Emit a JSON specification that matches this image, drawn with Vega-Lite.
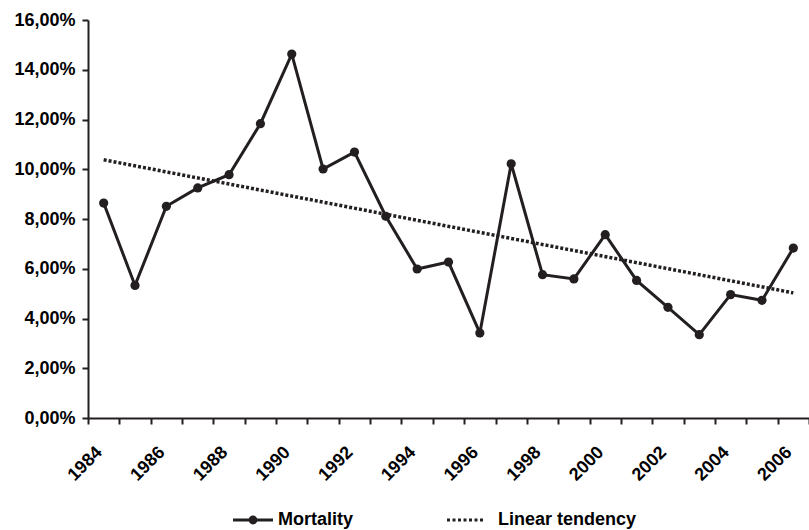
{
  "$schema": "https://vega.github.io/schema/vega-lite/v6.json",
  "width": 721,
  "height": 398,
  "autosize": "none",
  "padding": {"left": 88, "top": 20, "right": 0, "bottom": 112},
  "background": "white",
  "config": {
    "view": {"stroke": null},
    "font": "Liberation Sans",
    "axis": {
      "domainColor": "#231f20",
      "domainWidth": 2,
      "tickColor": "#231f20",
      "tickWidth": 2,
      "tickSize": 6,
      "grid": false,
      "labelFont": "Liberation Sans",
      "labelFontSize": 18,
      "labelFontWeight": "bold",
      "labelColor": "#000000",
      "title": null
    },
    "legend": {
      "orient": "none",
      "legendX": 145,
      "legendY": 480,
      "direction": "horizontal",
      "labelFont": "Liberation Sans",
      "labelFontSize": 18,
      "labelFontWeight": "bold",
      "labelColor": "#000000",
      "symbolSize": 1600,
      "symbolStrokeWidth": 0,
      "symbolFillColor": "#231f20",
      "symbolOpacity": 1,
      "labelOffset": 5,
      "columnPadding": 93
    }
  },
  "data": {
    "values": [
      {"year": 1984, "value": 8.64, "series": "Mortality"},
      {"year": 1985, "value": 5.33, "series": "Mortality"},
      {"year": 1986, "value": 8.51, "series": "Mortality"},
      {"year": 1987, "value": 9.25, "series": "Mortality"},
      {"year": 1988, "value": 9.78, "series": "Mortality"},
      {"year": 1989, "value": 11.83, "series": "Mortality"},
      {"year": 1990, "value": 14.63, "series": "Mortality"},
      {"year": 1991, "value": 10.01, "series": "Mortality"},
      {"year": 1992, "value": 10.69, "series": "Mortality"},
      {"year": 1993, "value": 8.11, "series": "Mortality"},
      {"year": 1994, "value": 5.99, "series": "Mortality"},
      {"year": 1995, "value": 6.27, "series": "Mortality"},
      {"year": 1996, "value": 3.42, "series": "Mortality"},
      {"year": 1997, "value": 10.22, "series": "Mortality"},
      {"year": 1998, "value": 5.76, "series": "Mortality"},
      {"year": 1999, "value": 5.59, "series": "Mortality"},
      {"year": 2000, "value": 7.37, "series": "Mortality"},
      {"year": 2001, "value": 5.53, "series": "Mortality"},
      {"year": 2002, "value": 4.45, "series": "Mortality"},
      {"year": 2003, "value": 3.35, "series": "Mortality"},
      {"year": 2004, "value": 4.96, "series": "Mortality"},
      {"year": 2005, "value": 4.73, "series": "Mortality"},
      {"year": 2006, "value": 6.83, "series": "Mortality"},
      {"year": 1984, "value": 10.38, "series": "Linear tendency"},
      {"year": 2006, "value": 5.03, "series": "Linear tendency"}
    ]
  },
  "encoding": {
    "x": {
      "field": "year",
      "type": "ordinal",
      "bandPosition": 0.5,
      "scale": {"type": "band", "paddingInner": 0, "paddingOuter": 0},
      "axis": {
        "tickBand": "extent",
        "labelAngle": -45,
        "labelAlign": "right",
        "labelBaseline": "top",
        "labelOffset": -11,
        "labelPadding": 19,
        "labelOverlap": false,
        "labelBound": false,
        "labelExpr": "datum.value % 2 == 0 ? datum.label : ''"
      }
    },
    "y": {
      "field": "value",
      "type": "quantitative",
      "scale": {"domain": [0, 16], "nice": false},
      "axis": {
        "values": [0, 2, 4, 6, 8, 10, 12, 14, 16],
        "labelPadding": 7,
        "labelExpr": "replace(format(datum.value, '.2f'), '.', ',') + '%'"
      }
    }
  },
  "layer": [
    {
      "transform": [{"filter": "datum.series === 'Mortality'"}],
      "mark": {"type": "line", "color": "#231f20", "strokeWidth": 3}
    },
    {
      "transform": [{"filter": "datum.series === 'Linear tendency'"}],
      "mark": {"type": "line", "color": "#231f20", "strokeWidth": 3.5, "strokeDash": [3, 2]}
    },
    {
      "transform": [{"filter": "datum.series === 'Mortality'"}],
      "mark": {"type": "point", "filled": true, "color": "#231f20", "size": 85, "opacity": 1}
    },
    {
      "mark": {"type": "point", "filled": true, "color": "#231f20", "opacity": 0},
      "encoding": {
        "shape": {
          "field": "series",
          "type": "nominal",
          "scale": {
            "domain": ["Mortality", "Linear tendency"],
            "range": [
              "M-1,-0.075H-0.17V0.075H-1Z M0.17,-0.075H1V0.075H0.17Z M0.22,0A0.22,0.22 0 1,1 -0.22,0A0.22,0.22 0 1,1 0.22,0Z",
              "M-1.3,-0.075h0.15v0.15h-0.15Z M-1.025,-0.075h0.15v0.15h-0.15Z M-0.75,-0.075h0.15v0.15h-0.15Z M-0.475,-0.075h0.15v0.15h-0.15Z M-0.2,-0.075h0.15v0.15h-0.15Z M0.075,-0.075h0.15v0.15h-0.15Z M0.35,-0.075h0.15v0.15h-0.15Z"
            ]
          },
          "legend": {"title": null}
        }
      }
    }
  ]
}
